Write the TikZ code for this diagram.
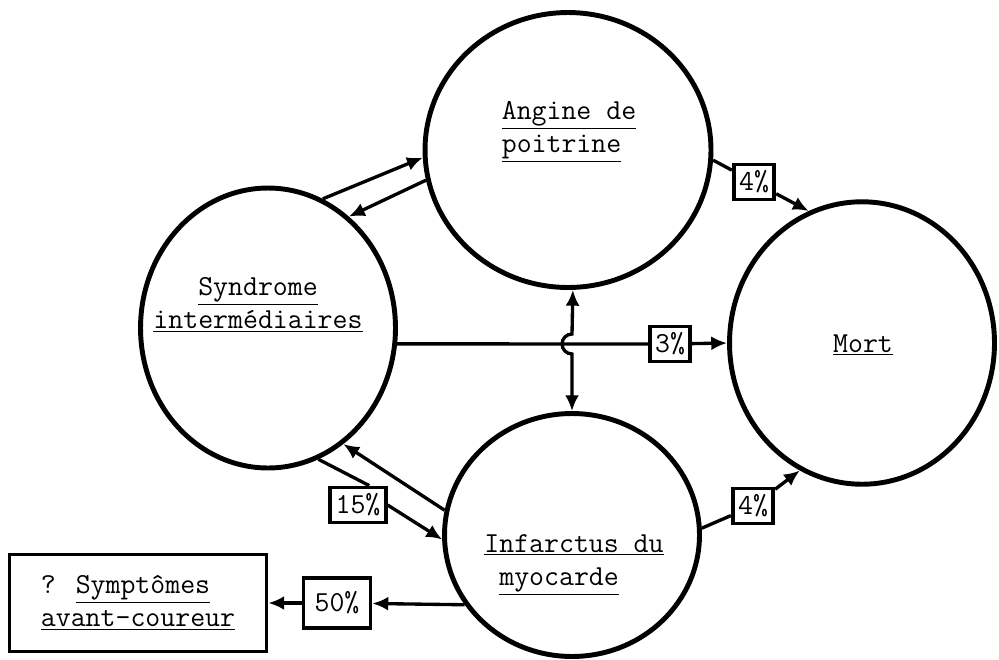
\documentclass[tikz,border=0pt]{standalone}
\usetikzlibrary{shapes.geometric,arrows.meta}
\begin{document}
\begin{tikzpicture}[x=0.02cm,y=-0.02cm,>={Latex[length=9pt,width=8pt]},
            etat/.style={ellipse,draw,line width=2.8pt,inner sep=0pt},
            lab/.style={font=\ttfamily\fontsize{16.5}{19}\selectfont,align=center},
            pct/.style={draw,line width=2.2pt,fill=white,font=\ttfamily\fontsize{16.5}{19}\selectfont,
                        inner xsep=3pt,inner ysep=0pt,minimum height=0.7cm},
            ln/.style={line width=1.9pt}]
             \useasboundingbox (0,0) rectangle (999,659);
             % les etats
             \node[etat,minimum width=5.72cm,minimum height=5.5cm]  (ang)  at (568,150) {};
             \node[etat,minimum width=5.1cm, minimum height=5.6cm]  (syn)  at (268,328) {};
             \node[etat,minimum width=5.3cm, minimum height=5.65cm] (mort) at (862,343) {};
             \node[etat,minimum width=5.1cm, minimum height=4.86cm] (inf)  at (572,535) {};
             \node[lab,align=left] (ang-t)  at (569,132) {\underline{Angine de}\\\underline{poitrine}};
             \node[lab]            (syn-t)  at (258,305) {\underline{Syndrome}\\\underline{interm\'ediaires}};
             \node[lab]            (mort-t) at (863,345) {\underline{Mort}};
             \node[lab,align=left] (inf-t)  at (574,565) {\underline{Infarctus du}\\\phantom{x}\underline{myocarde}};
             \node[lab,align=left,draw,line width=2.2pt,minimum width=5.14cm,minimum height=1.94cm]
                                   (sym)    at (138,603) {? \underline{Sympt\^omes}\\\underline{avant-coureur}};
             % les pourcentages
             \node[pct] (p4a) at (754,182) {4\%};
             \node[pct] (p3)  at (670,344) {3\%};
             \node[pct] (p4b) at (753,506) {4\%};
             \node[pct] (p15) at (358,505) {15\%};
             \node[pct,minimum height=1cm,minimum width=1.34cm] (p50) at (337,603) {50\%};
             % les fleches
             \draw[ln,->] (syn.67) -- (ang.183);
             \draw[ln,->] (ang.192) -- (syn.54);
             \draw[ln,->] (inf.169) -- (syn.-57);
             \draw[ln]    (syn.-69) -- (p15.60);
             \draw[ln,->] (p15.east) -- (inf.182);
             \draw[ln]    (syn.-7) -- (p3);
             \draw[ln,->] (p3) -- (mort.180);
             \draw[ln]    (ang.-4) -- (p4a);
             \draw[ln,->] (p4a) -- (mort.112);
             \draw[ln]    (inf.3) -- (p4b);
             \draw[ln,->] (p4b) -- (mort.244);
             \draw[ln,->] (inf.213) -- (p50);
             \draw[ln,->] (p50) -- (sym);
             \coordinate (hop) at (572,344);
             \draw[ln,<->] (ang.-88) -- ([yshift=0.2cm]hop) arc[start angle=90,end angle=270,radius=0.2cm] -- (inf.90);
        \end{tikzpicture}
\end{document}
